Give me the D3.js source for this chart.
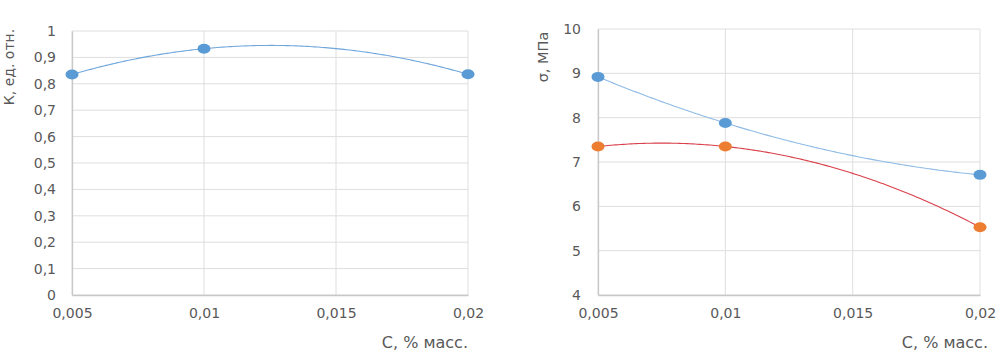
<!DOCTYPE html>
<html><head><meta charset="utf-8">
<script src="https://cdn.jsdelivr.net/npm/d3@7"></script>
<style>
html,body{margin:0;padding:0;background:#fff;}
svg text{font-family:"DejaVu Sans","Open Sans",sans-serif;fill:#595959;}
</style></head>
<body>
<svg id="c" width="1005" height="358"></svg>
<script>
// ---- data ----
const xCats = [0.005, 0.01, 0.02];
const xTicks = [0.005, 0.01, 0.015, 0.02];
const kValues = [0.835, 0.933, 0.836];
const kTicks = [0, 0.1, 0.2, 0.3, 0.4, 0.5, 0.6, 0.7, 0.8, 0.9, 1];
const sigmaBlue = [8.92, 7.88, 6.71];
const sigmaOrange = [7.35, 7.35, 5.53];
const sigmaTicks = [4, 5, 6, 7, 8, 9, 10];
const leftYTitle = "К, ед. отн.";
const rightYTitle = "σ, МПа";
const xTitle = "С, % масс.";

const fmt = v => String(v).replace(".", ",");
const svg = d3.select("#c");

// least-squares polynomial (order 2) trendline, as in the original spreadsheet chart
function polyfit2(xs, ys) {
  const n = xs.length;
  let S = [0,0,0,0,0], T = [0,0,0];
  for (let i = 0; i < n; i++) {
    let p = 1;
    for (let k = 0; k < 5; k++) { S[k] += p; if (k < 3) T[k] += p * ys[i]; p *= xs[i]; }
  }
  const A = [[S[0],S[1],S[2],T[0]],[S[1],S[2],S[3],T[1]],[S[2],S[3],S[4],T[2]]];
  for (let i = 0; i < 3; i++) {
    let m = i;
    for (let r = i+1; r < 3; r++) if (Math.abs(A[r][i]) > Math.abs(A[m][i])) m = r;
    [A[i], A[m]] = [A[m], A[i]];
    for (let r = 0; r < 3; r++) if (r !== i) {
      const f = A[r][i] / A[i][i];
      for (let c = i; c < 4; c++) A[r][c] -= f * A[i][c];
    }
  }
  const c = A.map((row, i) => row[3] / row[i]);
  return x => c[0] + c[1]*x + c[2]*x*x;
}

function panel(opt) {
  const g = svg.append("g");
  const x = d3.scaleLinear().domain([0.005, 0.02]).range([opt.x0, opt.x1]);
  const y = d3.scaleLinear().domain(opt.yDomain).range([opt.y1, opt.y0]);
  // horizontal gridlines
  g.selectAll(".hg").data(opt.yTicks).enter().append("line")
    .attr("x1", opt.x0).attr("x2", opt.x1)
    .attr("y1", d => y(d)).attr("y2", d => y(d))
    .attr("stroke", "#dedede").attr("stroke-width", 1);
  // vertical gridlines
  g.selectAll(".vg").data(xTicks).enter().append("line")
    .attr("x1", d => x(d)).attr("x2", d => x(d))
    .attr("y1", opt.y0).attr("y2", opt.y1)
    .attr("stroke", "#dedede").attr("stroke-width", 1);
  // axes
  const ya = g.append("g").attr("transform", `translate(${opt.x0},0)`)
    .call(d3.axisLeft(y).tickValues(opt.yTicks).tickFormat(fmt).tickSize(0).tickPadding(opt.yPad));
  const xa = g.append("g").attr("transform", `translate(0,${opt.y1})`)
    .call(d3.axisBottom(x).tickValues(xTicks).tickFormat(fmt).tickSize(0).tickPadding(13));
  [ya, xa].forEach(a => {
    a.select(".domain").attr("stroke", "#c8c8c8").attr("stroke-width", 1.3);
    a.selectAll("text").attr("font-size", 14).attr("fill", "#595959")
      .attr("font-family", "DejaVu Sans, sans-serif");
  });
  // trendlines and markers
  const xs = d3.range(0.005, 0.02000001, 0.0001);
  opt.series.forEach(s => {
    const f = polyfit2(xCats, s.values);
    g.append("path").datum(xs)
      .attr("d", d3.line().x(d => x(d)).y(d => y(f(d))).curve(d3.curveLinear))
      .attr("fill", "none").attr("stroke", s.line).attr("stroke-width", 1.1);
  });
  opt.series.forEach(s => {
    g.selectAll(null).data(s.values).enter().append("ellipse")
      .attr("cx", (d, i) => x(xCats[i])).attr("cy", d => y(d))
      .attr("rx", 6.5).attr("ry", 5).attr("fill", s.marker);
  });
  // titles
  g.append("text").attr("transform", `translate(${opt.ytX},${opt.ytY}) rotate(-90)`)
    .attr("text-anchor", "middle").attr("dominant-baseline", "middle")
    .attr("font-size", opt.ytSize).text(opt.yTitle);
  g.append("text").attr("x", opt.xtX).attr("y", 348).attr("text-anchor", "end")
    .attr("font-size", 16).text(xTitle);
}

panel({
  x0: 72, x1: 468, y0: 31, y1: 295, yDomain: [0, 1], yTicks: kTicks, yPad: 16,
  yTitle: leftYTitle, ytX: 10, ytY: 67, ytSize: 14, xtX: 468,
  series: [{ values: kValues, marker: "#5B9BD5", line: "#6fa6dc" }]
});
panel({
  x0: 598, x1: 980, y0: 29, y1: 295, yDomain: [4, 10], yTicks: sigmaTicks, yPad: 17,
  yTitle: rightYTitle, ytX: 544, ytY: 57, ytSize: 14.5, xtX: 988,
  series: [
    { values: sigmaBlue, marker: "#5B9BD5", line: "#8fbbe6" },
    { values: sigmaOrange, marker: "#ED7D31", line: "#d9404a" }
  ]
});
</script>
</body></html>
